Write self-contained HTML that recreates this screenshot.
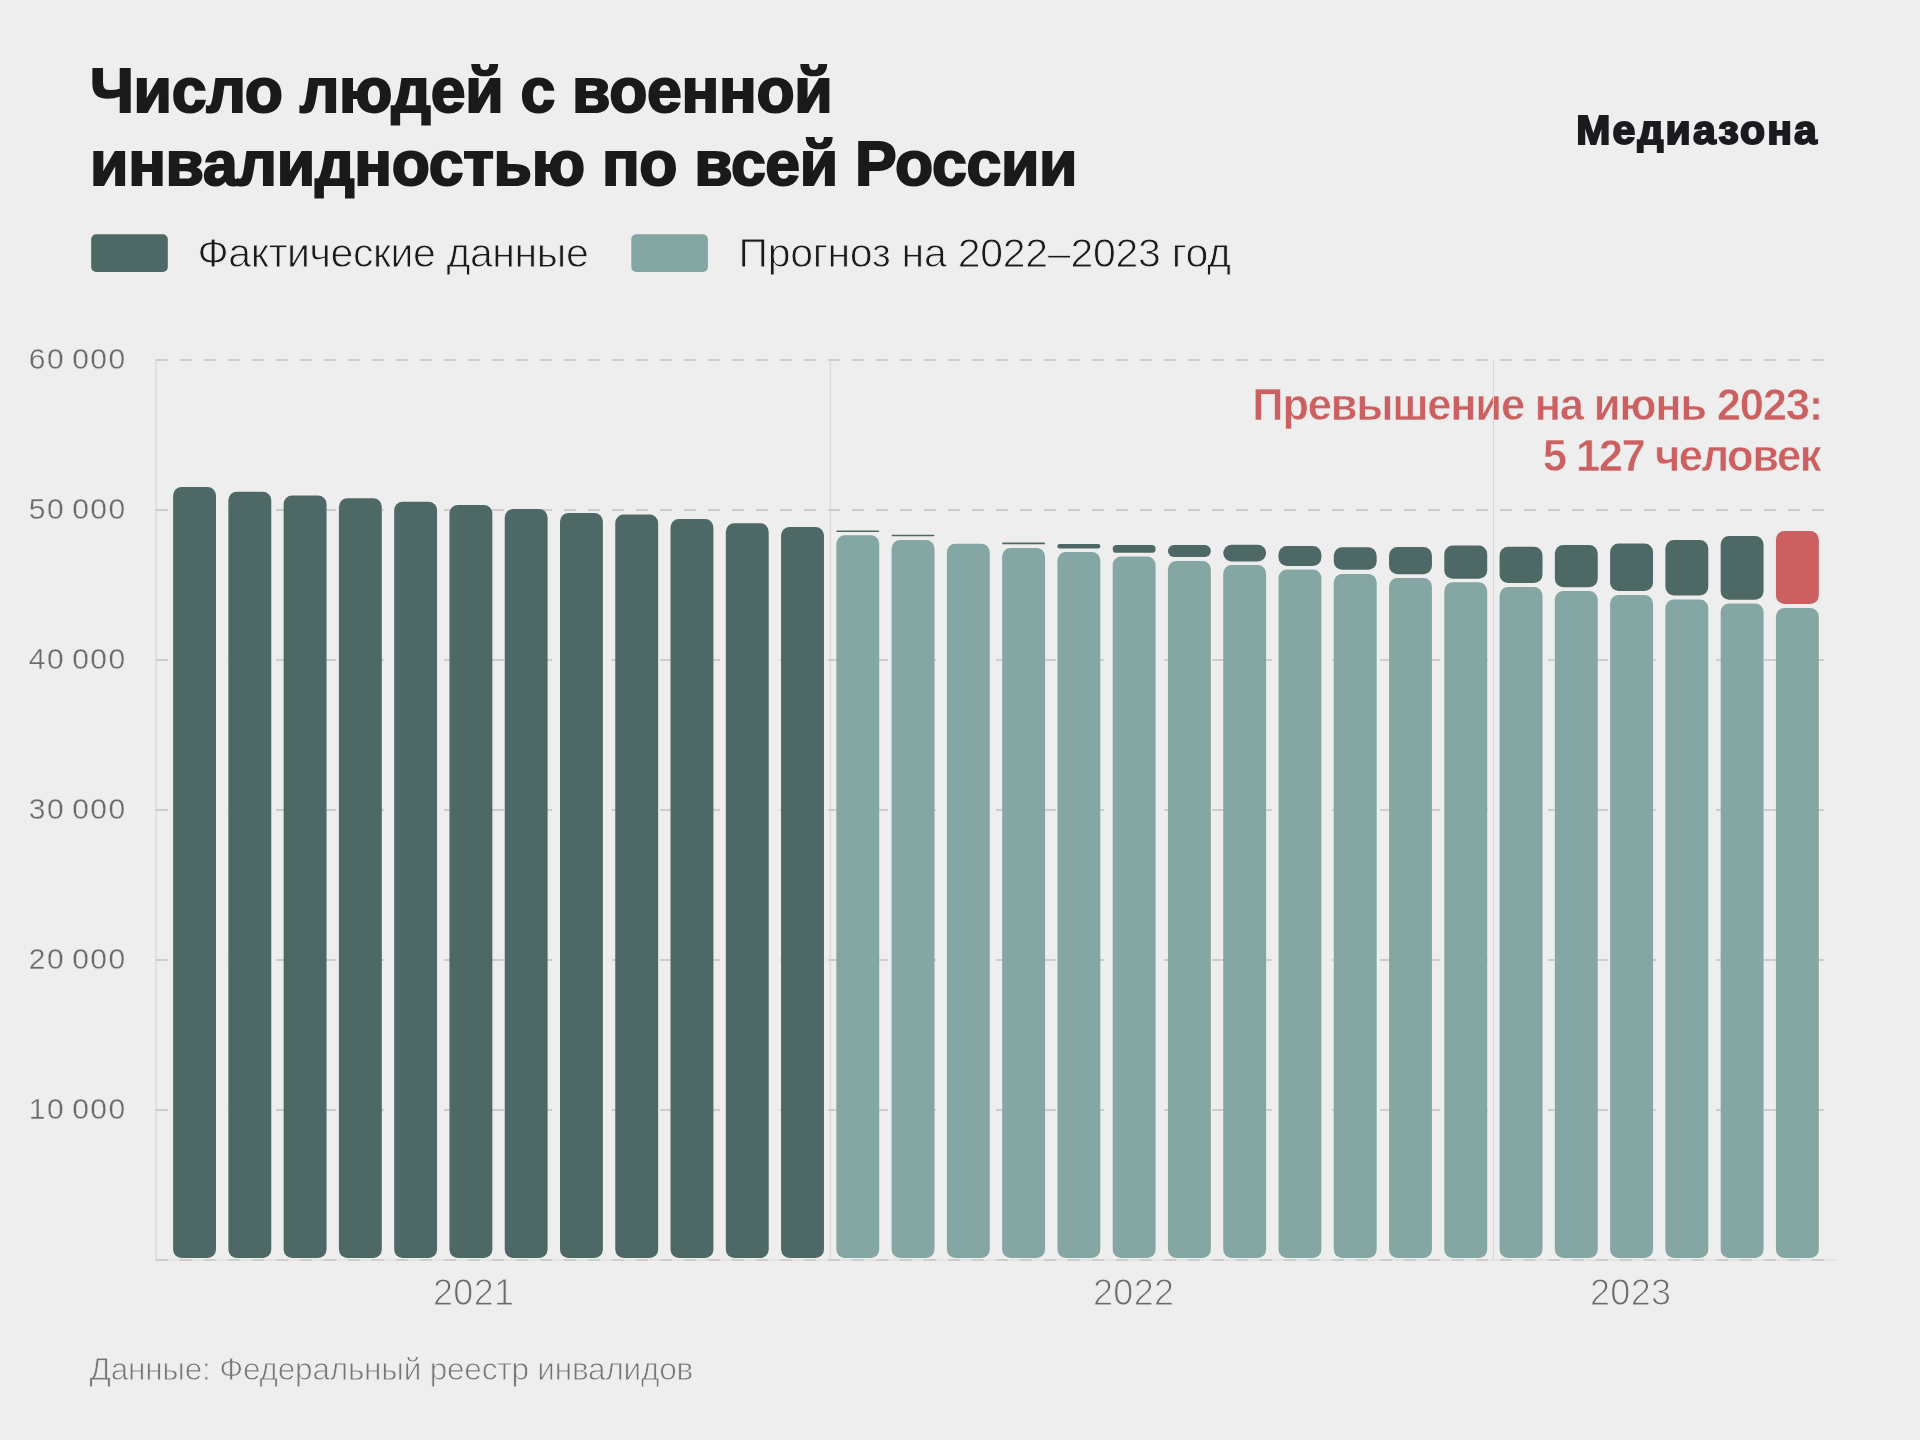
<!DOCTYPE html>
<html><head><meta charset="utf-8"><title>Число людей с военной инвалидностью</title>
<style>html,body{margin:0;padding:0;background:#eeeeee;width:1920px;height:1440px;overflow:hidden}
svg text{font-family:"Liberation Sans", sans-serif} svg{will-change:transform}</style></head>
<body>
<svg width="1920" height="1440" viewBox="0 0 1920 1440" style="position:absolute;left:0;top:0;font-family:'Liberation Sans', sans-serif">
<rect x="0" y="0" width="1920" height="1440" fill="#eeeeee"/>
<line x1="156.1" y1="359" x2="156.1" y2="1261" stroke="#d9d9d9" stroke-width="1.5"/><text x="1822" y="420.3" font-size="43.5" font-weight="700" fill="#cc5f5f" text-anchor="end" letter-spacing="-1.2" stroke="#eeeeee" stroke-width="0.6">Превышение на июнь 2023:</text><text x="1820" y="470.5" font-size="43.5" font-weight="700" fill="#cc5f5f" text-anchor="end" letter-spacing="-1.45" stroke="#eeeeee" stroke-width="0.6">5 127 человек</text><line x1="830.3" y1="360" x2="830.3" y2="1259" stroke="#d9d9d9" stroke-width="1.2"/><line x1="1493.4" y1="360" x2="1493.4" y2="1259" stroke="#d9d9d9" stroke-width="1.2"/><line x1="156" y1="360" x2="1824" y2="360" stroke="#cdcdcd" stroke-width="2" stroke-dasharray="12 12"/><line x1="156" y1="510" x2="1824" y2="510" stroke="#cdcdcd" stroke-width="2" stroke-dasharray="12 12"/><line x1="156" y1="660" x2="1824" y2="660" stroke="#cdcdcd" stroke-width="2" stroke-dasharray="12 12"/><line x1="156" y1="810" x2="1824" y2="810" stroke="#cdcdcd" stroke-width="2" stroke-dasharray="12 12"/><line x1="156" y1="960" x2="1824" y2="960" stroke="#cdcdcd" stroke-width="2" stroke-dasharray="12 12"/><line x1="156" y1="1110" x2="1824" y2="1110" stroke="#cdcdcd" stroke-width="2" stroke-dasharray="12 12"/><line x1="156" y1="1260" x2="1836" y2="1260" stroke="#e3e3e3" stroke-width="2"/><line x1="156" y1="1260" x2="1824" y2="1260" stroke="#cdcdcd" stroke-width="2" stroke-dasharray="12 12"/><rect x="173.10" y="487.10" width="42.9" height="770.90" rx="8.50" fill="#4e6865"/><rect x="228.37" y="491.80" width="42.9" height="766.20" rx="8.50" fill="#4e6865"/><rect x="283.64" y="495.50" width="42.9" height="762.50" rx="8.50" fill="#4e6865"/><rect x="338.91" y="498.20" width="42.9" height="759.80" rx="8.50" fill="#4e6865"/><rect x="394.18" y="501.80" width="42.9" height="756.20" rx="8.50" fill="#4e6865"/><rect x="449.45" y="505.05" width="42.9" height="752.95" rx="8.50" fill="#4e6865"/><rect x="504.72" y="509.00" width="42.9" height="749.00" rx="8.50" fill="#4e6865"/><rect x="559.99" y="513.00" width="42.9" height="745.00" rx="8.50" fill="#4e6865"/><rect x="615.26" y="514.40" width="42.9" height="743.60" rx="8.50" fill="#4e6865"/><rect x="670.53" y="519.00" width="42.9" height="739.00" rx="8.50" fill="#4e6865"/><rect x="725.80" y="523.15" width="42.9" height="734.85" rx="8.50" fill="#4e6865"/><rect x="781.07" y="526.96" width="42.9" height="731.04" rx="8.50" fill="#4e6865"/><rect x="836.34" y="535.20" width="42.9" height="722.80" rx="8.50" fill="#85a7a3"/><rect x="836.34" y="530.60" width="42.9" height="1.50" rx="0.75" fill="#4e6865"/><rect x="891.61" y="539.90" width="42.9" height="718.10" rx="8.50" fill="#85a7a3"/><rect x="891.61" y="534.80" width="42.9" height="1.50" rx="0.75" fill="#4e6865"/><rect x="946.88" y="543.70" width="42.9" height="714.30" rx="8.50" fill="#85a7a3"/><rect x="1002.15" y="548.00" width="42.9" height="710.00" rx="8.50" fill="#85a7a3"/><rect x="1002.15" y="542.40" width="42.9" height="1.90" rx="0.95" fill="#4e6865"/><rect x="1057.42" y="552.10" width="42.9" height="705.90" rx="8.50" fill="#85a7a3"/><rect x="1057.42" y="544.00" width="42.9" height="4.60" rx="2.30" fill="#4e6865"/><rect x="1112.69" y="556.40" width="42.9" height="701.60" rx="8.50" fill="#85a7a3"/><rect x="1112.69" y="545.05" width="42.9" height="7.75" rx="3.88" fill="#4e6865"/><rect x="1167.96" y="560.90" width="42.9" height="697.10" rx="8.50" fill="#85a7a3"/><rect x="1167.96" y="544.90" width="42.9" height="12.00" rx="6.00" fill="#4e6865"/><rect x="1223.23" y="565.10" width="42.9" height="692.90" rx="8.50" fill="#85a7a3"/><rect x="1223.23" y="544.70" width="42.9" height="16.70" rx="8.35" fill="#4e6865"/><rect x="1278.50" y="569.40" width="42.9" height="688.60" rx="8.50" fill="#85a7a3"/><rect x="1278.50" y="546.10" width="42.9" height="19.90" rx="8.50" fill="#4e6865"/><rect x="1333.77" y="573.90" width="42.9" height="684.10" rx="8.50" fill="#85a7a3"/><rect x="1333.77" y="547.35" width="42.9" height="22.45" rx="8.50" fill="#4e6865"/><rect x="1389.04" y="578.10" width="42.9" height="679.90" rx="8.50" fill="#85a7a3"/><rect x="1389.04" y="547.10" width="42.9" height="27.20" rx="8.50" fill="#4e6865"/><rect x="1444.31" y="582.30" width="42.9" height="675.70" rx="8.50" fill="#85a7a3"/><rect x="1444.31" y="545.50" width="42.9" height="33.20" rx="8.50" fill="#4e6865"/><rect x="1499.58" y="586.90" width="42.9" height="671.10" rx="8.50" fill="#85a7a3"/><rect x="1499.58" y="546.80" width="42.9" height="36.10" rx="8.50" fill="#4e6865"/><rect x="1554.85" y="591.10" width="42.9" height="666.90" rx="8.50" fill="#85a7a3"/><rect x="1554.85" y="544.90" width="42.9" height="42.40" rx="8.50" fill="#4e6865"/><rect x="1610.12" y="595.10" width="42.9" height="662.90" rx="8.50" fill="#85a7a3"/><rect x="1610.12" y="543.50" width="42.9" height="47.60" rx="8.50" fill="#4e6865"/><rect x="1665.39" y="599.40" width="42.9" height="658.60" rx="8.50" fill="#85a7a3"/><rect x="1665.39" y="540.05" width="42.9" height="55.55" rx="8.50" fill="#4e6865"/><rect x="1720.66" y="603.60" width="42.9" height="654.40" rx="8.50" fill="#85a7a3"/><rect x="1720.66" y="536.10" width="42.9" height="63.70" rx="8.50" fill="#4e6865"/><rect x="1775.93" y="608.05" width="42.9" height="649.95" rx="8.50" fill="#85a7a3"/><rect x="1775.93" y="531.00" width="42.9" height="73.00" rx="8.50" fill="#cc5f5f"/>
<rect x="91.2" y="234.2" width="76.6" height="37.8" rx="5" fill="#4e6865"/>
<rect x="631.3" y="234.2" width="76.6" height="37.8" rx="5" fill="#85a7a3"/>
<text x="90" y="111.6" font-size="62.5" font-weight="700" fill="#1a1a1a" text-anchor="start" letter-spacing="-0.3" stroke="#1a1a1a" stroke-width="2">Число людей с военной</text><text x="90" y="185.4" font-size="62.5" font-weight="700" fill="#1a1a1a" text-anchor="start" letter-spacing="-0.29" stroke="#1a1a1a" stroke-width="2">инвалидностью по всей России</text><text x="1819" y="144.2" font-size="41" font-weight="700" fill="#1b1b1f" text-anchor="end" letter-spacing="2.15" stroke="#1b1b1f" stroke-width="2">Медиазона</text><text x="197.5" y="267.4" font-size="41" font-weight="400" fill="#1a1a1a" text-anchor="start" letter-spacing="-0.4" stroke="#eeeeee" stroke-width="0.9">Фактические данные</text><text x="738.5" y="267.4" font-size="41" font-weight="400" fill="#1a1a1a" text-anchor="start" letter-spacing="-0.26" stroke="#eeeeee" stroke-width="0.9">Прогноз на 2022–2023 год</text><text x="126.5" y="369.2" font-size="30" font-weight="400" fill="#6a6a6a" text-anchor="end" letter-spacing="1.4" word-spacing="-2.5" stroke="#eeeeee" stroke-width="0.35">60 000</text><text x="126.5" y="519.1999999999999" font-size="30" font-weight="400" fill="#6a6a6a" text-anchor="end" letter-spacing="1.4" word-spacing="-2.5" stroke="#eeeeee" stroke-width="0.35">50 000</text><text x="126.5" y="669.1999999999999" font-size="30" font-weight="400" fill="#6a6a6a" text-anchor="end" letter-spacing="1.4" word-spacing="-2.5" stroke="#eeeeee" stroke-width="0.35">40 000</text><text x="126.5" y="819.1999999999999" font-size="30" font-weight="400" fill="#6a6a6a" text-anchor="end" letter-spacing="1.4" word-spacing="-2.5" stroke="#eeeeee" stroke-width="0.35">30 000</text><text x="126.5" y="969.1999999999999" font-size="30" font-weight="400" fill="#6a6a6a" text-anchor="end" letter-spacing="1.4" word-spacing="-2.5" stroke="#eeeeee" stroke-width="0.35">20 000</text><text x="126.5" y="1119.2" font-size="30" font-weight="400" fill="#6a6a6a" text-anchor="end" letter-spacing="1.4" word-spacing="-2.5" stroke="#eeeeee" stroke-width="0.35">10 000</text><text x="433" y="1304.5" font-size="36" font-weight="400" fill="#6a6a6a" text-anchor="start" letter-spacing="0.3" stroke="#eeeeee" stroke-width="1">2021</text><text x="1093" y="1304.5" font-size="36" font-weight="400" fill="#6a6a6a" text-anchor="start" letter-spacing="0.3" stroke="#eeeeee" stroke-width="1">2022</text><text x="1590" y="1304.5" font-size="36" font-weight="400" fill="#6a6a6a" text-anchor="start" letter-spacing="0.3" stroke="#eeeeee" stroke-width="1">2023</text><text x="89.5" y="1380.3" font-size="31.5" font-weight="400" fill="#767676" text-anchor="start" letter-spacing="-0.2" stroke="#eeeeee" stroke-width="0.8">Данные: Федеральный реестр инвалидов</text>
</svg>
</body></html>
